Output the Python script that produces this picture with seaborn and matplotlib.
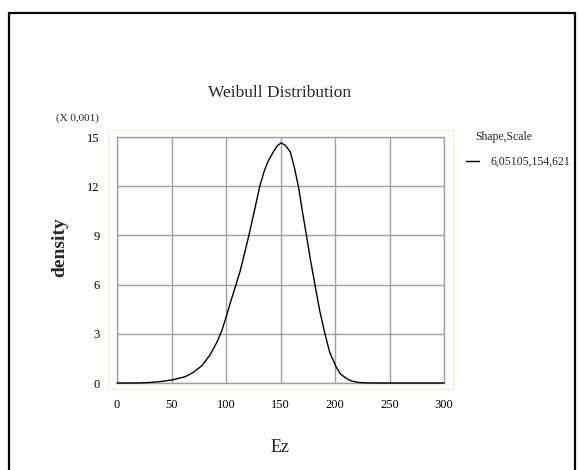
import matplotlib
matplotlib.use("Agg")
import matplotlib.pyplot as plt
import numpy as np
import pandas as pd
import seaborn as sns
from matplotlib.patches import Rectangle

# ---- data (density in units of 0.001) ----
ez_values = [0, 10, 20, 30, 40, 50, 62.5, 70, 78, 85.5, 91.6, 96.2, 100, 104.6,
             109.2, 112.9, 117, 121, 126.8, 131, 135, 138.5, 142.2, 146.8, 150.5,
             154.4, 159, 162.5, 166.4, 170, 173.8, 177.5, 181.6, 186, 190.8,
             195, 200.9, 205, 210, 215, 222, 230, 240, 260, 280, 300]
density_values = [0, 0, 0.005, 0.03, 0.09, 0.18, 0.38, 0.65, 1.06, 1.73, 2.48,
                  3.2, 4.0, 5.03, 6.0, 6.8, 7.9, 9.0, 10.73, 12.0, 12.9, 13.5,
                  13.95, 14.45, 14.64, 14.5, 14.09, 13.2, 12.0, 10.5, 9.0, 7.5,
                  6.0, 4.4, 3.0, 1.9, 1.0, 0.55, 0.3, 0.12, 0.03, 0.005, 0, 0,
                  0, 0]
x_ticks = [0, 50, 100, 150, 200, 250, 300]
y_ticks = [0, 3, 6, 9, 12, 15]
title_text = "Weibull Distribution"
x_label = "Ez"
y_label = "density"
scale_text = "(X 0,001)"
legend_title = "Shape,Scale"
legend_label = "6,05105,154,621"

sns.set_style("white")
plt.rcParams['font.family'] = ['Liberation Serif', 'DejaVu Serif']

W, H = 578, 470
fig = plt.figure(figsize=(W / 100, H / 100), dpi=100)
ax = fig.add_axes([117 / W, 1 - 383 / H, (444 - 117) / W, (383 - 137) / H])

df = pd.DataFrame({x_label: ez_values, y_label: density_values})
sns.lineplot(data=df, x=x_label, y=y_label, color="black", linewidth=1.0,
             ax=ax, label=legend_label)
line = ax.lines[0]
line.set_clip_on(False)
line.set_zorder(4)

ax.set_xlim(0, 300)
ax.set_ylim(0, 15)
ax.set_xticks(x_ticks)
ax.set_yticks(y_ticks)
ax.grid(True, color="#a0a0a0", linewidth=1.0)
ax.set_axisbelow(True)
for s in ax.spines.values():
    s.set_color("#a0a0a0")
    s.set_linewidth(1.0)
ax.tick_params(direction="out", length=2.5, color="#a0a0a0", width=1,
               labelsize=9, labelcolor="black")
ax.tick_params(axis="x", pad=9)
ax.tick_params(axis="y", pad=10)
ax.set_xlabel("")
ax.set_ylabel("")

# texts
fig.text(280 / W, 1 - 93 / H, title_text, ha="center", va="center", fontsize=12.5)
fig.text(77 / W, 1 - 118 / H, scale_text, ha="center", va="center", fontsize=8)
fig.text(60 / W, 1 - 247 / H, y_label, ha="center", va="center", fontsize=14,
         fontweight="bold", rotation=90)
fig.text(280 / W, 1 - 447 / H, x_label, ha="center", va="center", fontsize=13)
fig.text(475 / W, 1 - 137 / H, legend_title, ha="left", va="center", fontsize=8.5)

ax.legend(loc="center left", bbox_to_anchor=(466 / W, 1 - 162 / H),
          bbox_transform=fig.transFigure, frameon=False, handlelength=1.1,
          handletextpad=1.0, borderpad=0, borderaxespad=0, fontsize=8.5)

# pale yellow frame around the plot area and black outer border
fig.add_artist(Rectangle((108 / W, 1 - 389 / H), (453 - 108) / W, (389 - 130) / H,
                         transform=fig.transFigure, fill=False,
                         edgecolor="#f3f3c0", linewidth=0.8))
fig.add_artist(Rectangle((9 / W, -0.05), (575 - 9) / W, 1 - 13 / H + 0.05,
                         transform=fig.transFigure, fill=False,
                         edgecolor="black", linewidth=1.6))

fig.savefig("out.png", dpi=100)
